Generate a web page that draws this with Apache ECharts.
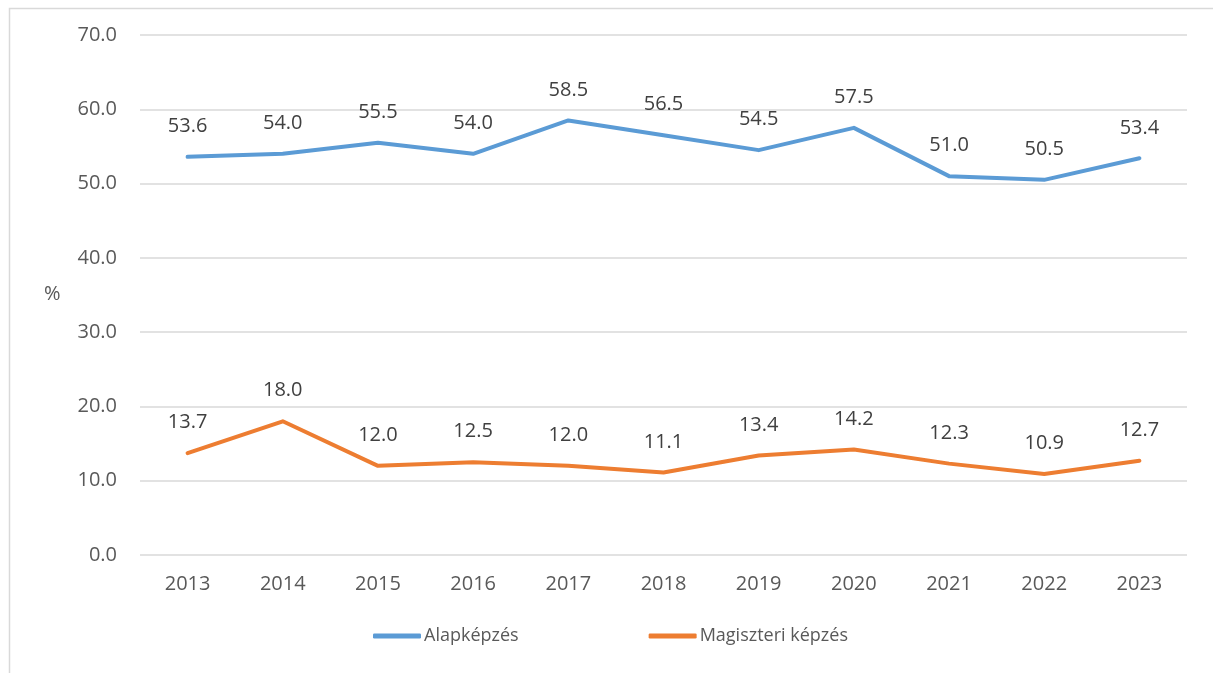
<!DOCTYPE html>
<html>
<head>
<meta charset="utf-8">
<script src="https://cdn.jsdelivr.net/npm/echarts@6/dist/echarts.min.js"></script>
<style>
  html, body { margin: 0; padding: 0; background: #fff; }
  #chart { width: 1213px; height: 673px; }
</style>
</head>
<body>
<div id="chart"></div>
<script>
// 数据
var years = ['2013', '2014', '2015', '2016', '2017', '2018', '2019', '2020', '2021', '2022', '2023'];
var alapkepzes = [53.6, 54.0, 55.5, 54.0, 58.5, 56.5, 54.5, 57.5, 51.0, 50.5, 53.4];
var magiszteri = [13.7, 18.0, 12.0, 12.5, 12.0, 11.1, 13.4, 14.2, 12.3, 10.9, 12.7];

var FONT = '"Open Sans", sans-serif';

function makeSeries(name, data, color) {
    return {
        name: name,
        type: 'line',
        data: data,
        color: color,
        showSymbol: true,
        symbol: 'circle',
        symbolSize: 1,
        itemStyle: { color: color, opacity: 0 },
        lineStyle: { width: 4, color: color, cap: 'round', join: 'round' },
        label: {
            show: true,
            position: 'top',
            distance: 20,
            fontFamily: FONT,
            fontSize: 20,
            color: '#404040',
            opacity: 1,
            formatter: function (p) { return p.value.toFixed(1); }
        },
        emphasis: { disabled: true }
    };
}

var chart = echarts.init(document.getElementById('chart'));
chart.setOption({
    animation: false,
    textStyle: { fontFamily: FONT },
    grid: { left: 140, right: 26, top: 35, bottom: 118 },
    graphic: [
        {
            type: 'rect',
            left: 7, top: 6,
            shape: { width: 1230, height: 700 },
            style: { fill: 'none', stroke: '#d9d9d9', lineWidth: 1.5 }
        },
        {
            type: 'text',
            left: 44, top: 284,
            style: { text: '%', fontFamily: FONT, fontSize: 20, fill: '#595959' }
        }
    ],
    legend: {
        left: 368,
        top: 622,
        itemWidth: 48,
        itemHeight: 5,
        itemGap: 130,
        icon: 'roundRect',
        itemStyle: { opacity: 1 },
        textStyle: { fontFamily: FONT, fontSize: 18, color: '#595959', padding: [0, 0, 0, -2] },
        data: ['Alapképzés', 'Magiszteri képzés']
    },
    xAxis: {
        type: 'category',
        data: years,
        boundaryGap: true,
        axisLine: { show: false },
        axisTick: { show: false },
        axisLabel: { fontFamily: FONT, fontSize: 20, color: '#595959', margin: 19 }
    },
    yAxis: {
        type: 'value',
        min: 0,
        max: 70,
        interval: 10,
        axisLine: { show: false },
        axisTick: { show: false },
        splitLine: { lineStyle: { color: '#d9d9d9', width: 1.5 } },
        axisLabel: {
            fontFamily: FONT, fontSize: 20, color: '#595959', margin: 23,
            formatter: function (v) { return v.toFixed(1); }
        }
    },
    series: [
        makeSeries('Alapképzés', alapkepzes, '#5b9bd5'),
        makeSeries('Magiszteri képzés', magiszteri, '#ed7d31')
    ]
});
</script>
</body>
</html>
